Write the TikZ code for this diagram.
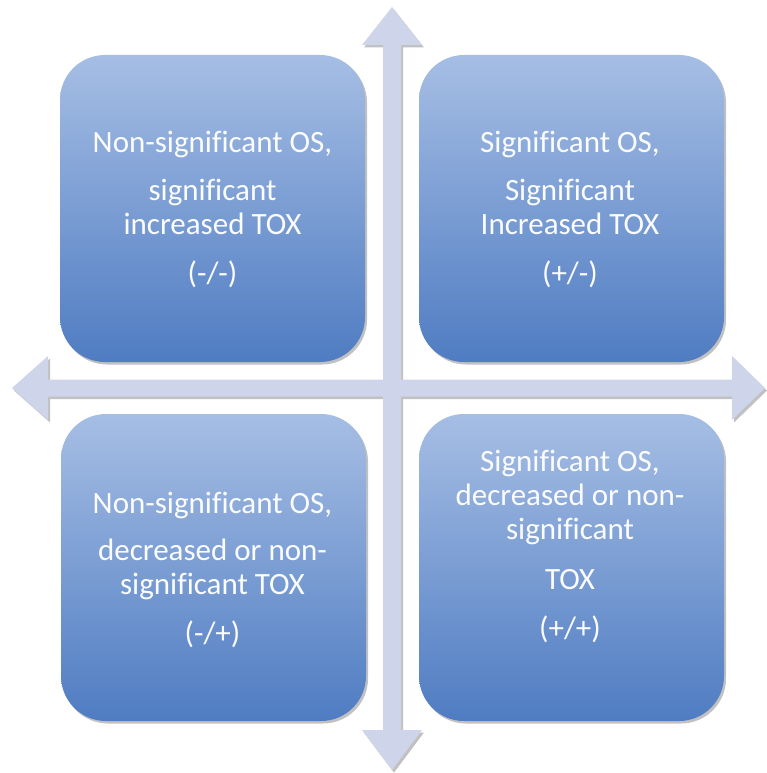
\documentclass[tikz,border=0pt]{standalone}
\usepackage{fontspec}
\setmainfont[Ligatures=NoCommon]{Carlito}
\usetikzlibrary{shadows,positioning}
\definecolor{boxtop}{RGB}{166,190,228}
\definecolor{boxbottom}{RGB}{79,124,194}
\definecolor{axisfill}{RGB}{206,212,234}
\tikzset{
  quadbox/.style={rectangle, rounded corners=45pt, minimum width=305pt, minimum height=307pt,
    top color=boxtop, bottom color=boxbottom, draw=none,
    drop shadow={shadow xshift=2pt, shadow yshift=-2.5pt, opacity=0.35, fill=black!70}},
  quadtext/.style={align=center, text=white!96!boxtop, font=\fontsize{31}{34}\selectfont, anchor=base, inner sep=0pt},
  axisfill/.style={fill=axisfill, draw=none,
    drop shadow={shadow xshift=2pt, shadow yshift=-2.5pt, opacity=0.35, fill=black!70}}
}
\begin{document}
\begin{tikzpicture}[x=1pt,y=-1pt]
\useasboundingbox (0,0) rectangle (767,773);
% the four quadrants
\node[quadbox] (tl) at (212.5,208.5) {};
\node[quadbox] (tr) at (571.5,208.5) {};
\node[quadbox] (bl) at (213.5,567.5) {};
\node[quadbox] (br) at (571.5,567.5) {};
% the two axes
\path[axisfill] (12,388) -- (48,356) -- (48,379.5) -- (732,379.5) -- (732,356) -- (765,388)
  -- (732,420) -- (732,396.5) -- (48,396.5) -- (48,420) -- cycle
  (392,7) -- (422,45) -- (401,45) -- (401,730) -- (422,730) -- (392,770)
  -- (362,730) -- (383,730) -- (383,45) -- (362,45) -- cycle;
% texts (anchored at the baseline of the last line)
\node[quadtext] (tltext) at (212.5,283) {Non-significant OS,\\[14pt] significant\\ increased TOX\\[15pt] (-/-)};
\node[quadtext] (trtext) at (570,283) {Significant OS,\\[14pt] Significant\\ Increased TOX\\[15pt] (+/-)};
\node[quadtext] (bltext) at (212.5,643) {Non-significant OS,\\[13pt] decreased or non-\\ significant TOX\\[15pt] (-/+)};
\node[quadtext] (brtext) at (570,638) {Significant OS,\\ decreased or non-\\ significant\\[16pt] TOX\\[15pt] (+/+)};
\end{tikzpicture}
\end{document}
